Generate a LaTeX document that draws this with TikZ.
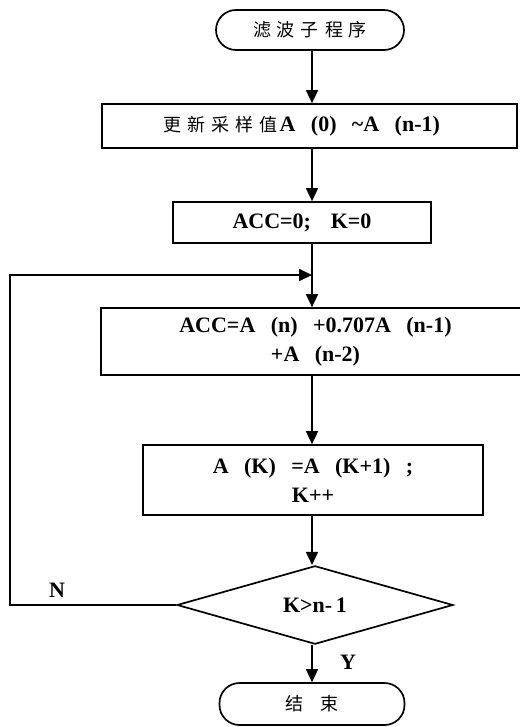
\documentclass[tikz,border=0pt]{standalone}
\usepackage{fontspec}
\setmainfont{Liberation Serif}
\newfontfamily\cjk{Noto Sans CJK SC}
\usetikzlibrary{arrows.meta,shapes.geometric}
\newcommand\zs{\hspace{6pt}}
\newcommand\lp{\hspace{0.7em}(}
\newcommand\rp{)\hspace{0.7em}}
\begin{document}
\begin{tikzpicture}[x=1pt,y=-1pt,line width=1.7pt,
  lat/.style={font=\bfseries\fontsize{22}{29}\selectfont},
  procbox/.style={draw,rectangle,inner sep=0pt,align=center,lat},
  term/.style={draw,rectangle,inner sep=0pt,rounded corners=20pt,font=\cjk\fontsize{18}{20}\selectfont},
  decision/.style={draw,diamond,inner sep=0pt,lat},
  arr/.style={-{Triangle[width=12pt,length=13pt]}},
  lbl/.style={inner sep=0pt,lat}]
\useasboundingbox (0,0) rectangle (519,727);
\node[term,minimum width=188pt,minimum height=40pt] (start) at (310,30) {滤\zs 波\zs 子\zs 程\zs 序};
\node[procbox,minimum width=415pt,minimum height=44pt] (b1) at (309.5,126)
  {{\cjk\fontsize{18}{20}\selectfont\mdseries 更\zs 新\zs 采\zs 样\zs 值}\hspace{2pt}A\lp 0\rp\textasciitilde A\lp n-1\rp};
\node[procbox,minimum width=258pt,minimum height=41pt] (b2) at (302,222.5) {ACC=0;\hspace{0.9em}K=0};
\node[procbox,minimum width=429pt,minimum height=67pt] (b3) at (315.5,341.5)
  {ACC=A\lp n\rp+0.707A\lp n-1\rp\\+A\lp n-2\rp};
\node[procbox,minimum width=340pt,minimum height=70pt] (b4) at (313,480)
  {A\lp K\rp=A\lp K+1\rp;\\K++};
\node[decision,minimum width=276pt,minimum height=69pt] (dec) at (315,605) {K>n-\,1};
\node[term,minimum width=185pt,minimum height=42pt] (stop) at (312,704) {结\hspace{17pt}束};
\coordinate (xl) at (312,0);
\coordinate (merge) at (312,275);
\coordinate (lc) at (10,275);
\draw[arr] (start.south -| xl) -- (b1.north -| xl);
\draw[arr] (b1.south -| xl) -- (b2.north -| xl);
\draw[arr] (b2.south -| xl) -- (b3.north -| xl);
\draw[arr] (b3.south -| xl) -- (b4.north -| xl);
\draw[arr] (b4.south -| xl) -- (dec.north -| xl);
\draw[arr] (dec.south -| xl) -- (stop.north -| xl);
\draw[arr] (dec.west) -| (lc) -- (merge);
\node[lbl] (nlab) at (57,590) {N};
\node[lbl] (ylab) at (348,662) {Y};
\end{tikzpicture}
\end{document}
